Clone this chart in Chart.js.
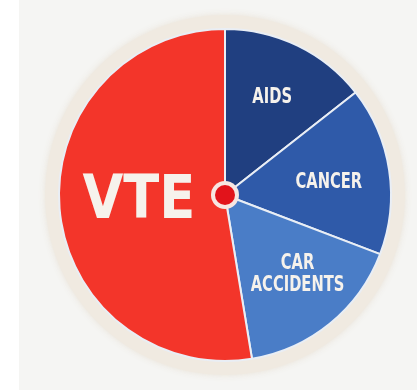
<!DOCTYPE html>
<html>
<head>
<meta charset="utf-8">
<script src="https://cdn.jsdelivr.net/npm/chart.js@4.4.1/dist/chart.umd.min.js"></script>
<style>
  html, body { margin: 0; padding: 0; background: #ffffff; }
  #wrap { width: 417px; height: 390px; position: relative; }
</style>
</head>
<body>
<div id="wrap"><canvas id="pie" width="417" height="390"></canvas></div>
<script>
// ── Data (share of deaths, clockwise from 12 o'clock) ─────────────────────
const causes  = ['AIDS', 'CANCER', 'CAR ACCIDENTS', 'VTE'];
const shares  = [14.4, 16.4, 16.6, 52.6];
const colours = ['#203f80', '#2f5aa9', '#4a7dc7', '#f3352a'];

// label lines, size and placement along each slice (fraction of radius, angle nudge in deg)
const labelLines = [['AIDS'], ['CANCER'], ['CAR', 'ACCIDENTS'], ['VTE']];
const labelStyle = [
    { size: 21, r: 0.65, nudge: 0,  squeeze: 0.70 },
    { size: 21, r: 0.63, nudge: 2,  squeeze: 0.70 },
    { size: 21, r: 0.65, nudge: -3, squeeze: 0.70 },
    { size: 60, r: 0.52, nudge: 0,  squeeze: 0.88 }
];

// ── Backdrop + beige rim behind the pie ───────────────────────────────────
const backdrop = {
    id: 'backdrop',
    beforeDraw(chart) {
        const c = chart.ctx;
        const arc = chart.getDatasetMeta(0).data[0];
        c.save();
        c.fillStyle = '#f5f5f3';
        c.fillRect(19, 0, chart.width - 19, chart.height);
        c.beginPath();
        c.arc(arc.x, arc.y, arc.outerRadius + 14, 0, Math.PI * 2);
        c.fillStyle = '#f0eae1';
        c.shadowColor = 'rgba(232,224,212,0.9)';
        c.shadowBlur = 6;
        c.fill();
        c.restore();
    }
};

// ── White labels + hub dot ────────────────────────────────────────────────
const sliceLabels = {
    id: 'sliceLabels',
    afterDatasetsDraw(chart) {
        const c = chart.ctx;
        const arcs = chart.getDatasetMeta(0).data;
        c.save();
        arcs.forEach((a, i) => {
            const st = labelStyle[i];
            const mid = (a.startAngle + a.endAngle) / 2 + st.nudge * Math.PI / 180;
            const x = a.x + Math.cos(mid) * a.outerRadius * st.r;
            const y = a.y + Math.sin(mid) * a.outerRadius * st.r;
            const lines = labelLines[i];
            const lh = st.size * 1.05;
            c.save();
            c.translate(x, y);
            c.scale(st.squeeze, 1);
            c.fillStyle = '#f6f2ec';
            c.textAlign = 'center';
            c.textBaseline = 'middle';
            c.font = `bold ${st.size}px "DejaVu Sans", "Liberation Sans", sans-serif`;
            lines.forEach((ln, k) => {
                c.fillText(ln, 0, (k - (lines.length - 1) / 2) * lh);
            });
            c.restore();
        });
        // hub
        const a0 = arcs[0];
        c.beginPath();
        c.arc(a0.x, a0.y, 14, 0, Math.PI * 2);
        c.fillStyle = '#f7e6e2';
        c.fill();
        c.beginPath();
        c.arc(a0.x, a0.y, 10, 0, Math.PI * 2);
        c.fillStyle = '#e2131b';
        c.fill();
        c.restore();
    }
};

new Chart(document.getElementById('pie'), {
    type: 'pie',
    data: {
        labels: causes,
        datasets: [{
            data: shares,
            backgroundColor: colours,
            borderColor: '#e9eef5',
            borderWidth: 2
        }]
    },
    options: {
        responsive: false,
        animation: false,
        layout: { padding: { left: 58, right: 25, top: 28, bottom: 28 } },
        plugins: {
            legend: { display: false },
            tooltip: { enabled: false }
        }
    },
    plugins: [backdrop, sliceLabels]
});
</script>
</body>
</html>
